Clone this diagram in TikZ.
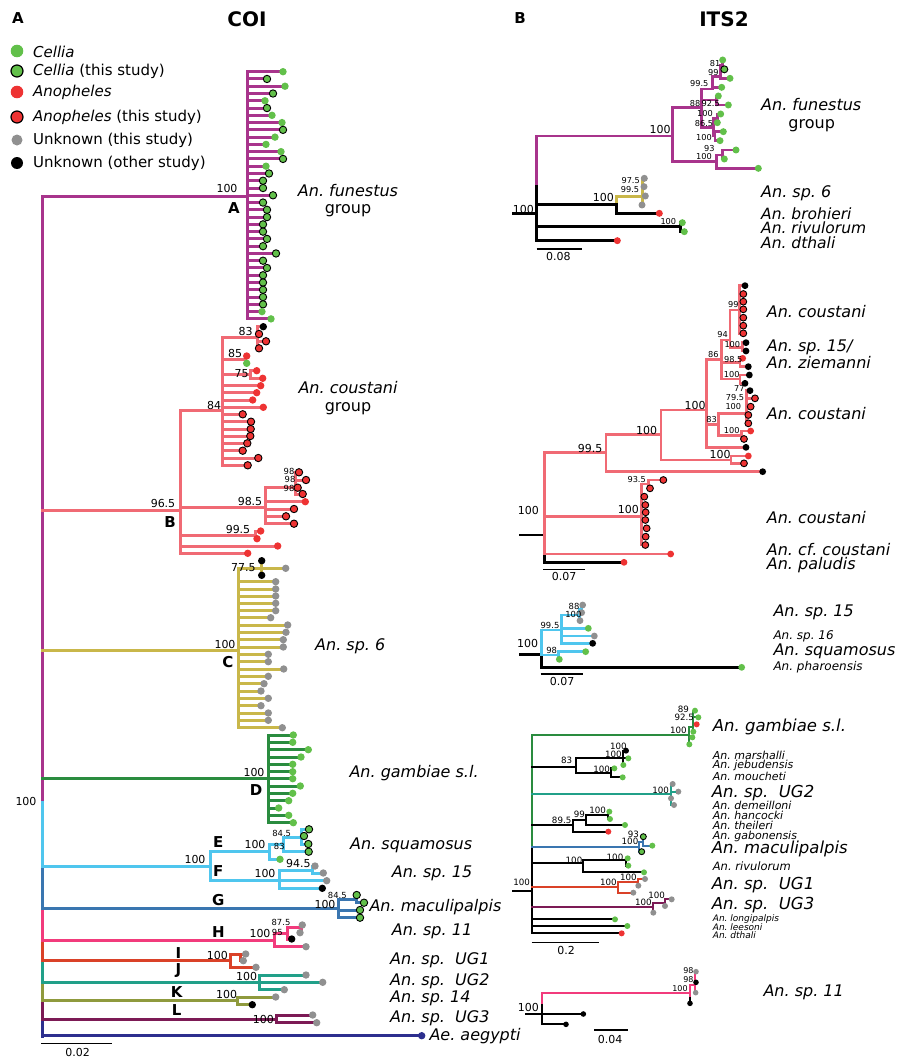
\documentclass[tikz,border=0pt]{standalone}
\usepackage{fontspec}
\setmainfont{DejaVu Sans}
\frenchspacing
\definecolor{cA}{HTML}{A8348C}
\definecolor{cB}{HTML}{F06A74}
\definecolor{cC}{HTML}{C9B74A}
\definecolor{cD}{HTML}{2A8C3F}
\definecolor{cE}{HTML}{4FC6EE}
\definecolor{cG}{HTML}{3A76B0}
\definecolor{cH}{HTML}{F23B7C}
\definecolor{cI}{HTML}{DA4128}
\definecolor{cJ}{HTML}{21A089}
\definecolor{cK}{HTML}{8F9A3D}
\definecolor{cL}{HTML}{7C1A55}
\definecolor{cN}{HTML}{2D2F8E}
\definecolor{cgreen}{HTML}{62C04A}
\definecolor{cred}{HTML}{EE3333}
\definecolor{cgray}{HTML}{909090}
\newcommand\fs[1]{\fontsize{#1}{#1}\selectfont}
\newcounter{lfc}\newcounter{lbc}
\tikzset{
  br/.style={line width=3pt,line cap=rect},
  dot/.style={circle,inner sep=0pt,minimum size=7.4pt},
  dg/.style={dot,fill=cgreen},
  dG/.style={dot,fill=cgreen,draw=black,line width=0.9pt},
  dr/.style={dot,fill=cred},
  dR/.style={dot,fill=cred,draw=black,line width=0.9pt},
  da/.style={dot,fill=cgray},
  dk/.style={dot,fill=black},
  dn/.style={dot,fill=cN},
  sbar/.style={line width=1.6pt,black},
}
\newcommand\lf[5]{\stepcounter{lfc}\draw[br,#1] (#2,#3) -- (#4,#3) node[#5] (lf\arabic{lfc}) {};}
\newcommand\hb[4]{\draw[br,#1] (#2,#4) -- (#3,#4);}
\newcommand\vb[4]{\draw[br,#1] (#2,#3) -- (#2,#4);}
\newcommand\bt[4]{\stepcounter{lbc}\node[inner sep=0pt,font=\fs{#1}] (b\arabic{lbc}) at (#2,#3) {#4};}
\newcommand\spl[4]{\stepcounter{lbc}\node[inner sep=0pt,anchor=west,font=\fs{#1}\itshape] (b\arabic{lbc}) at (#2,#3) {#4};}
\newcommand\cl[3]{\stepcounter{lbc}\node[inner sep=0pt,font=\bfseries\fs{15}] (b\arabic{lbc}) at (#1,#2) {#3};}
\begin{document}
\begin{tikzpicture}[x=1pt,y=-1pt]
\useasboundingbox (0,0) rectangle (899,1057);
\fill[white] (0,0) rectangle (899,1057);
% titles
\node[font=\bfseries\fs{15},inner sep=0pt] (pA) at (18,18) {A};
\node[font=\bfseries\fs{20},inner sep=0pt] (tCOI) at (247,19) {COI};
\node[font=\bfseries\fs{15},inner sep=0pt] (pB) at (520,18) {B};
\node[font=\bfseries\fs{20},inner sep=0pt] (tITS) at (724,19) {ITS2};
% legend
\node[dg,minimum size=12.6pt] (lg1) at (17,51) {};
\node[dG,minimum size=12pt,line width=1.2pt] (lg2) at (17,71) {};
\node[dr,minimum size=12.6pt] (lg3) at (17,92) {};
\node[dR,minimum size=12pt,line width=1.2pt] (lg4) at (17,117) {};
\node[da,minimum size=11pt] (lg5) at (17,140) {};
\node[dk,minimum size=12pt] (lg6) at (17,163) {};
\node[anchor=west,inner sep=0pt,font=\fs{15}] (lt1) at (33,51.5) {\itshape Cellia};
\node[anchor=west,inner sep=0pt,font=\fs{15}] (lt2) at (33,71.5) {\itshape Cellia\upshape{} (this study)};
\node[anchor=west,inner sep=0pt,font=\fs{15}] (lt3) at (33,92.5) {\itshape Anopheles};
\node[anchor=west,inner sep=0pt,font=\fs{15}] (lt4) at (33,117) {\itshape Anopheles\upshape{} (this study)};
\node[anchor=west,inner sep=0pt,font=\fs{15}] (lt5) at (33,140) {Unknown (this study)};
\node[anchor=west,inner sep=0pt,font=\fs{15}] (lt6) at (33,163.5) {Unknown (other study)};

% ================= COI ==================
\vb{cA}{42}{196}{802}
\vb{cE}{42}{802}{867}
\vb{cG}{42}{867}{909}
\vb{cH}{42}{909}{942}
\vb{cI}{42}{942}{962}
\vb{cJ}{42}{962}{983}
\vb{cK}{42}{983}{1002}
\vb{cL}{42}{1002}{1020}
\vb{cN}{42}{1020}{1036}
% A
\hb{cA}{42}{247}{196}
\vb{cA}{247}{71.7}{318.9}
\foreach \x/\t [count=\i from 0] in {283/dg,267/dG,285/dg,273/dG,265/dg,267/dG,272/dg,282/dg,283/dG,275/dg,266/dg,281/dg,283/dG,266/dg,269/dG,263/dG,263/dG,273/dG,263/dG,267/dG,267/dG,263/dG,263/dG,267/dG,263/dG,276/dG,263/dG,267/dG,263/dG,263/dG,263/dG,263/dG,263/dG,262/dg,271/dg}{\lf{cA}{247}{71.7+7.27*\i}{\x}{\t}}
% B
\hb{cB}{42}{180}{510.7}
\vb{cB}{180}{410.7}{553.3}
\hb{cB}{180}{222.7}{410.7}
\vb{cB}{222.7}{337}{465.3}
\hb{cB}{222.7}{257.3}{337}
\vb{cB}{257.3}{326.7}{348.3}
\lf{cB}{257.3}{326.7}{263.3}{dk}
\lf{cB}{257.3}{334}{259}{dR}
\lf{cB}{257.3}{341.3}{266}{dR}
\lf{cB}{257.3}{348.3}{259}{dR}
\hb{cB}{222.7}{245}{359.7}
\vb{cB}{245}{356}{363.3}
\lf{cB}{245}{356}{246.7}{dr}
\lf{cB}{245}{363.3}{246.7}{dg}
\hb{cB}{222.7}{250}{374}
\vb{cB}{250}{370.7}{378.3}
\lf{cB}{250}{370.7}{256.7}{dr}
\lf{cB}{250}{378.3}{262.7}{dr}
\foreach \y/\x/\t in {385.7/260.7/dr,392.7/256.7/dr,400/252.7/dr,407.3/263.3/dr,414.3/242.7/dR,421.7/251/dR,429/250.7/dR,436/250.3/dR,443.3/247.3/dR,450.7/242.7/dR,458/258.3/dR,465.3/247.7/dR}{\lf{cB}{222.7}{\y}{\x}{\t}}
\hb{cB}{180}{265.7}{507.7}
\vb{cB}{265.7}{487.7}{523.7}
\hb{cB}{265.7}{295}{487.7}
\vb{cB}{295}{472.3}{494}
\foreach \y/\x in {472.3/299,480/306,487.7/297.7,494/302.7}{\lf{cB}{295}{\y}{\x}{dR}}
\foreach \y/\x/\t in {501.7/305.3/dr,509/294/dR,516.3/286/dR,523.7/294/dR}{\lf{cB}{265.7}{\y}{\x}{\t}}
\hb{cB}{180}{255}{535}
\vb{cB}{255}{531}{538.7}
\lf{cB}{255}{531}{260.7}{dr}
\lf{cB}{255}{538.7}{257}{dr}
\lf{cB}{180}{546}{277.7}{dr}
\lf{cB}{180}{553.3}{247.7}{dr}
% C
\hb{cC}{42}{238.3}{650}
\vb{cC}{238.3}{568.3}{727.7}
\hb{cC}{238.3}{261}{568.3}
\vb{cC}{261}{560.7}{575.3}
\lf{cC}{261}{560.7}{261.7}{dk}
\lf{cC}{261}{568.3}{285.7}{da}
\lf{cC}{261}{575.3}{261.7}{dk}
\foreach \y/\x in {581.7/275.7,589/275.7,596/275.7,603.3/275.7,610.7/275.7,617.7/270.7,625/287.7,632.3/286,639.7/283.3,647/283.3,654.3/268.3,661.7/268.3,669/283.7,676.3/268.3,683.7/264,691/261,698.3/268.3,705.7/261,713/268.3,720.3/268.3,727.7/282.3}{\lf{cC}{238.3}{\y}{\x}{da}}
% D
\hb{cD}{42}{268.3}{778.3}
\vb{cD}{268.3}{735}{822.7}
\foreach \y/\x in {735/293.3,742.3/292.7,749.7/308.3,757/301,764.3/292.7,771.7/292.7,778.7/292.7,786/300.3,793.3/292.7,800.7/288.7,808/278.7,815.3/288.7,822.7/293.3}{\lf{cD}{268.3}{\y}{\x}{dg}}
% E F
\hb{cE}{42}{210}{866.7}
\vb{cE}{210}{851}{880}
\hb{cE}{210}{269.3}{851}
\vb{cE}{269.3}{844}{859.3}
\hb{cE}{269.3}{283.3}{844}
\vb{cE}{283.3}{837}{851.7}
\hb{cE}{283.3}{301.7}{837}
\vb{cE}{301.7}{829.3}{844}
\lf{cE}{301.7}{829.3}{309}{dG}
\lf{cE}{301.7}{836}{304}{dG}
\lf{cE}{301.7}{844}{308.3}{dG}
\lf{cE}{283.3}{851.7}{308.7}{dG}
\lf{cE}{269.3}{859.3}{280}{dg}
\hb{cE}{210}{279.3}{880}
\vb{cE}{279.3}{870}{888.3}
\hb{cE}{279.3}{312.7}{870}
\vb{cE}{312.7}{866}{873}
\lf{cE}{312.7}{866}{315}{da}
\lf{cE}{312.7}{873}{323.3}{da}
\lf{cE}{279.3}{880.7}{326.7}{da}
\lf{cE}{279.3}{888.3}{322.3}{dk}
% G
\hb{cG}{42}{338.3}{908.3}
\vb{cG}{338.3}{899}{917.7}
\hb{cG}{338.3}{356}{899}
\vb{cG}{356}{895}{902.7}
\lf{cG}{356}{895}{356.7}{dG}
\lf{cG}{356}{902.7}{364}{dG}
\lf{cG}{338.3}{910}{360}{dG}
\lf{cG}{338.3}{917.7}{360}{dG}
% H
\hb{cH}{42}{274.3}{940}
\vb{cH}{274.3}{933.3}{946.7}
\hb{cH}{274.3}{287.3}{933.3}
\vb{cH}{287.3}{927.3}{939}
\hb{cH}{287.3}{301.7}{927.3}
\vb{cH}{301.7}{925}{932.7}
\lf{cH}{301.7}{925}{302.3}{da}
\lf{cH}{301.7}{932.7}{300}{da}
\lf{cH}{287.3}{939}{291.7}{dk}
\lf{cH}{274.3}{946.7}{306}{da}
% I
\hb{cI}{42}{230}{960.7}
\vb{cI}{230}{954}{967.3}
\hb{cI}{230}{240}{954}
\vb{cI}{240}{954}{960.7}
\lf{cI}{240}{954}{245.7}{da}
\lf{cI}{240}{960.7}{243.3}{da}
\lf{cI}{230}{967.3}{256}{da}
% J
\hb{cJ}{42}{259.3}{982.3}
\vb{cJ}{259.3}{975}{989.7}
\lf{cJ}{259.3}{975}{306}{da}
\lf{cJ}{259.3}{982.3}{322.7}{da}
\lf{cJ}{259.3}{989.7}{284.3}{da}
% K
\hb{cK}{42}{237.3}{1000.7}
\vb{cK}{237.3}{997}{1004.7}
\lf{cK}{237.3}{997}{275.7}{da}
\lf{cK}{237.3}{1004.7}{252.3}{dk}
% L
\hb{cL}{42}{276}{1019}
\vb{cL}{276}{1015}{1022.7}
\lf{cL}{276}{1015}{312.7}{da}
\lf{cL}{276}{1022.7}{316.7}{da}
% Ae
\lf{cN}{42}{1035.7}{421.7}{dn}
% scale
\draw[sbar] (41,1043.3) -- (111.7,1043.3);
\bt{11}{77.7}{1052}{0.02}
% bootstrap labels COI
\bt{11}{26}{801}{100}
\bt{11}{227}{188}{100}
\bt{11}{245.7}{331}{83}
\bt{11}{235}{353}{85}
\bt{11}{241.7}{374}{75}
\bt{11}{214}{405}{84}
\bt{11}{163}{503}{96.5}
\bt{11}{250}{501.7}{98.5}
\bt{11}{238}{529}{99.5}
\bt{8.4}{289}{471.7}{98}
\bt{8.4}{290}{479}{98}
\bt{8.4}{289}{488.3}{98}
\bt{11}{243.3}{567.3}{77.5}
\bt{11}{225}{644}{100}
\bt{11}{254}{772.3}{100}
\bt{11}{195}{859}{100}
\bt{11}{255}{844}{100}
\bt{8.4}{281.7}{833.3}{84.5}
\bt{8.4}{279.3}{846}{83}
\bt{11}{265}{873.3}{100}
\bt{11}{298.3}{863.3}{94.5}
\bt{11}{325}{904}{100}
\bt{8.4}{337.3}{895}{84.5}
\bt{11}{260}{933.3}{100}
\bt{8.4}{277.3}{932.7}{95}
\bt{8.4}{281}{922.7}{87.5}
\bt{11}{217.3}{955}{100}
\bt{11}{246.7}{976}{100}
\bt{11}{226.7}{994.3}{100}
\bt{11}{263.3}{1019}{100}
% clade letters
\cl{234}{208}{A}
\cl{170}{522}{B}
\cl{228}{661.7}{C}
\cl{256}{790}{D}
\cl{218.3}{841.7}{E}
\cl{218.3}{871}{F}
\cl{218.3}{900}{G}
\cl{218.3}{931.7}{H}
\cl{178.3}{952.7}{I}
\cl{178.3}{971}{J}
\cl{176.7}{991.7}{K}
\cl{176.7}{1010}{L}
% species labels COI
\bt{16}{348}{191}{\itshape An. funestus}
\bt{16}{348}{211}{group}
\bt{16}{348}{387.3}{\itshape An. coustani}
\bt{16}{348}{408.3}{group}
\spl{16}{315}{646}{An. sp. 6}
\spl{16}{349.3}{773.3}{An. gambiae s.l.}
\spl{16}{350}{845}{An. squamosus}
\spl{16}{391.7}{873.3}{An. sp. 15}
\spl{16}{369.3}{906.7}{An. maculipalpis}
\spl{16}{391.7}{931}{An. sp. 11}
\spl{16}{390}{960}{An. sp.\ \ UG1}
\spl{16}{390}{981.7}{An. sp.\ \ UG2}
\spl{16}{390}{998.3}{An. sp. 14}
\spl{16}{390}{1018.3}{An. sp.\ \ UG3}
\spl{16}{429.3}{1035.7}{Ae. aegypti}

% ================= ITS2 panel 1 ==================
\begin{scope}[shift={(500,50)},x=0.33333pt,y=-0.33333pt,br/.style={line width=2.5pt,line cap=rect},dot/.style={circle,inner sep=0pt,minimum size=7pt}]
\draw[br,black] (40,490) -- (110,490);
\vb{cA}{110}{258}{410}
\vb{black}{110}{410}{572}
\hb{cA}{110}{517}{258}
\vb{cA}{517}{172}{335}
\hb{cA}{517}{605}{172}
\vb{cA}{605}{117}{232}
\hb{cA}{605}{637}{117}
\vb{cA}{637}{80}{112}
\hb{cA}{637}{662}{80}
\vb{cA}{662}{45}{85}
\hb{cA}{662}{668}{45}
\vb{cA}{668}{30}{58}
\lf{cA}{668}{30}{668}{dg}
\lf{cA}{668}{58}{673}{dG}
\lf{cA}{662}{85}{690}{dg}
\lf{cA}{637}{112}{665}{dg}
\hb{cA}{605}{650}{150}
\vb{cA}{650}{138}{165}
\lf{cA}{650}{138}{655}{dg}
\lf{cA}{650}{165}{685}{dg}
\hb{cA}{605}{640}{232}
\vb{cA}{640}{205}{258}
\hb{cA}{640}{652}{205}
\vb{cA}{652}{192}{218}
\lf{cA}{652}{192}{662}{dg}
\lf{cA}{652}{218}{652}{dg}
\hb{cA}{640}{645}{258}
\vb{cA}{645}{245}{272}
\lf{cA}{645}{245}{670}{dg}
\lf{cA}{645}{272}{660}{dg}
\hb{cA}{517}{650}{335}
\vb{cA}{650}{315}{355}
\hb{cA}{650}{668}{315}
\vb{cA}{668}{300}{327}
\lf{cA}{668}{300}{708}{dg}
\lf{cA}{668}{327}{673}{dg}
\lf{cA}{650}{355}{775}{dg}
\hb{black}{110}{350}{463}
\vb{cC}{350}{440}{463}
\vb{black}{350}{463}{490}
\hb{cC}{350}{428}{440}
\vb{cC}{428}{385}{465}
\foreach \y/\x in {385/433,410/432,438/436,465/426}{\lf{cC}{428}{\y}{\x}{da}}
\lf{black}{350}{490}{478}{dr}
\hb{black}{110}{542}{530}
\vb{black}{542}{518}{545}
\lf{black}{542}{518}{547}{dg}
\lf{black}{542}{545}{553}{dg}
\lf{black}{110}{572}{352}{dr}
\draw[sbar] (110,597) -- (245,597);
\bt{11}{175}{620}{0.08}
\bt{11}{70}{478}{100}
\bt{11}{480}{237}{100}
\bt{11}{310}{442}{100}
\bt{8.2}{645}{40}{81}
\bt{8.2}{640}{68}{99}
\bt{8.2}{598}{102}{99.5}
\bt{8.2}{585}{160}{88}
\bt{8.2}{632}{160}{92.5}
\bt{8.2}{615}{190}{100}
\bt{8.2}{612}{220}{86.5}
\bt{8.2}{612}{262}{100}
\bt{8.2}{628}{297}{93}
\bt{8.2}{612}{320}{100}
\bt{8.2}{392}{393}{97.5}
\bt{8.2}{390}{418}{99.5}
\bt{8.2}{505}{515}{100}
\spl{16}{783}{165}{An. funestus}
\bt{16}{935}{228}{group}
\spl{16}{783}{430}{An. sp. 6}
\spl{15.5}{783}{490}{An. brohieri}
\spl{15.5}{783}{533}{An. rivulorum}
\spl{15.5}{783}{577}{An. dthali}
\end{scope}

% ================= ITS2 panel 2 ==================
\begin{scope}[shift={(500,270)},x=0.33333pt,y=-0.33333pt,br/.style={line width=2.6pt,line cap=rect},dot/.style={circle,inner sep=0pt,minimum size=6.8pt}]
\draw[br,black] (60,795) -- (133,795);
\vb{cB}{133}{548}{852}
\vb{black}{133}{852}{877}
\hb{cB}{133}{318}{548}
\vb{cB}{318}{493}{605}
\hb{cB}{318}{483}{493}
\vb{cB}{483}{420}{570}
\hb{cB}{483}{620}{420}
\vb{cB}{620}{268}{532}
\hb{cB}{620}{665}{268}
\vb{cB}{665}{210}{327}
\hb{cB}{665}{690}{210}
\vb{cB}{690}{120}{232}
\hb{cB}{690}{718}{120}
\vb{cB}{718}{47}{190}
\lf{cB}{718}{47}{735}{dk}
\foreach \y in {72,95,118,143,167,190}{\lf{cB}{718}{\y}{730}{dR}}
\hb{cB}{690}{728}{232}
\vb{cB}{728}{218}{243}
\lf{cB}{728}{218}{738}{dk}
\lf{cB}{728}{243}{738}{dk}
\hb{cB}{665}{720}{278}
\vb{cB}{720}{265}{290}
\lf{cB}{720}{265}{728}{dr}
\lf{cB}{720}{290}{745}{dk}
\hb{cB}{665}{720}{327}
\vb{cB}{720}{315}{340}
\lf{cB}{720}{315}{748}{dk}
\lf{cB}{720}{340}{735}{dk}
\hb{cB}{620}{655}{463}
\vb{cB}{655}{430}{497}
\hb{cB}{655}{740}{430}
\vb{cB}{740}{362}{460}
\lf{cB}{740}{362}{750}{dk}
\lf{cB}{740}{385}{765}{dR}
\lf{cB}{740}{410}{752}{dR}
\lf{cB}{740}{435}{745}{dR}
\lf{cB}{740}{460}{745}{dR}
\hb{cB}{655}{725}{497}
\vb{cB}{725}{483}{507}
\lf{cB}{725}{483}{752}{dr}
\lf{cB}{725}{507}{732}{dR}
\lf{cB}{620}{532}{738}{dk}
\hb{cB}{483}{693}{570}
\vb{cB}{693}{558}{580}
\lf{cB}{693}{558}{745}{dr}
\lf{cB}{693}{580}{732}{dR}
\lf{cB}{318}{605}{788}{dk}
\hb{cB}{133}{425}{740}
\vb{cB}{425}{642}{825}
\hb{cB}{425}{445}{642}
\vb{cB}{445}{630}{655}
\lf{cB}{445}{630}{490}{dR}
\lf{cB}{445}{655}{450}{dR}
\foreach \y/\x in {680/433,705/436,727/437,750/436,775/440,800/437,825/436}{\lf{cB}{425}{\y}{\x}{dR}}
\lf{cB}{133}{852}{512}{dr}
\lf{black}{133}{877}{372}{dr}
\draw[sbar] (130,898) -- (255,898);
\bt{11}{192}{918}{0.07}
\bt{11}{85}{722}{100}
\bt{11}{270}{535}{99.5}
\bt{11}{440}{480}{100}
\bt{11}{585}{405}{100}
\bt{11}{660}{552}{100}
\bt{11}{385}{718}{100}
\bt{8.2}{640}{255}{86}
\bt{8.2}{668}{193}{94}
\bt{8.2}{700}{105}{99}
\bt{8.2}{697}{224}{100}
\bt{8.2}{700}{270}{98.5}
\bt{8.2}{695}{313}{100}
\bt{8.2}{635}{450}{83}
\bt{8.2}{718}{357}{77}
\bt{8.2}{705}{382}{79.5}
\bt{8.2}{700}{410}{100}
\bt{8.2}{695}{483}{100}
\bt{8.2}{410}{630}{93.5}
\spl{16}{800}{125}{An. coustani}
\spl{16}{800}{232}{An. sp. 15/}
\spl{16}{800}{278}{An. ziemanni}
\spl{16}{800}{432}{An. coustani}
\spl{16}{800}{742}{An. coustani}
\spl{16}{800}{838}{An. cf. coustani}
\spl{16}{800}{885}{An. paludis}
\end{scope}

% ================= ITS2 panel 3 ==================
\begin{scope}[shift={(500,590)},x=0.33333pt,y=-0.33333pt,br/.style={line width=2.4pt,line cap=rect},dot/.style={circle,inner sep=0pt,minimum size=6.8pt}]
\draw[br,black] (60,193) -- (125,193);
\vb{cE}{125}{120}{197}
\vb{black}{125}{197}{232}
\hb{cE}{125}{185}{120}
\vb{cE}{185}{75}{160}
\hb{cE}{185}{238}{75}
\vb{cE}{238}{57}{92}
\hb{cE}{238}{244}{57}
\vb{cE}{244}{45}{68}
\lf{cE}{244}{45}{248}{da}
\lf{cE}{244}{68}{245}{da}
\lf{cE}{238}{92}{240}{da}
\lf{cE}{185}{115}{265}{dg}
\lf{cE}{185}{138}{283}{da}
\lf{cE}{185}{160}{278}{dk}
\hb{cE}{125}{175}{195}
\vb{cE}{175}{185}{208}
\lf{cE}{175}{185}{257}{dg}
\lf{cE}{175}{208}{178}{dg}
\draw[br,black] (125,232) -- (668,232);
\draw[line width=3.4pt,black] (668,232) -- (725,232) node[dg] (pha) {};
\draw[sbar] (122,252) -- (250,252);
\bt{11}{186}{275}{0.07}
\bt{11}{83}{160}{100}
\bt{8.4}{150}{105}{99.5}
\bt{8.4}{220}{72}{100}
\bt{8.4}{222}{48}{88}
\bt{8.4}{155}{180}{98}
\spl{16}{820}{68}{An. sp. 15}
\spl{12}{820}{138}{An. sp. 16}
\spl{16}{820}{183}{An. squamosus}
\spl{12}{820}{233}{An. pharoensis}
\end{scope}

% ================= ITS2 panel 4 ==================
\begin{scope}[shift={(500,770)},x=0.33333pt,y=-0.33333pt,br/.style={line width=1.9pt,line cap=rect},dot/.style={circle,inner sep=0pt,minimum size=6pt}]
\draw[br,black] (40,362) -- (95,362);
\vb{cD}{95}{-105}{230}
\vb{black}{95}{230}{490}
% gambiae
\hb{cD}{95}{568}{-105}
\vb{cD}{568}{-130}{-77}
\hb{cD}{568}{578}{-130}
\vb{cD}{578}{-178}{-115}
\lf{cD}{578}{-178}{585}{dg}
\lf{cD}{578}{-158}{595}{dg}
\lf{cD}{578}{-137}{590}{dr}
\lf{cD}{578}{-115}{580}{dg}
\lf{cD}{568}{-98}{577}{dg}
\lf{cD}{568}{-77}{568}{dg}
% 83
\hb{black}{95}{228}{-10}
\vb{black}{228}{-36}{8}
\hb{black}{228}{370}{-36}
\vb{black}{370}{-58}{-15}
\lf{black}{370}{-58}{378}{dk}
\lf{black}{370}{-35}{385}{dg}
\lf{black}{370}{-15}{370}{dg}
\hb{black}{228}{333}{8}
\vb{black}{333}{-5}{22}
\lf{black}{333}{-5}{343}{dg}
\lf{black}{333}{22}{368}{dg}
% UG2
\hb{cJ}{95}{512}{72}
\vb{cJ}{512}{42}{105}
\node[da] (u2a) at (518,42) {};
\node[da] (u2b) at (535,65) {};
\node[da] (u2c) at (513,85) {};
\node[da] (u2d) at (522,105) {};
\draw[br,cJ] (512,65) -- (u2b);
% 89.5
\hb{black}{95}{220}{165}
\vb{black}{220}{150}{185}
\hb{black}{220}{258}{150}
\vb{black}{258}{136}{165}
\hb{black}{258}{325}{136}
\vb{black}{325}{125}{147}
\lf{black}{325}{125}{328}{dg}
\lf{black}{325}{147}{330}{dg}
\lf{black}{258}{165}{375}{dg}
\lf{black}{220}{185}{325}{dr}
% maculipalpis
\hb{cG}{95}{418}{230}
\vb{cG}{418}{215}{245}
\hb{cG}{418}{428}{215}
\vb{cG}{428}{200}{227}
\lf{cG}{428}{200}{430}{dG}
\lf{cG}{428}{227}{457}{dg}
\lf{cG}{418}{245}{425}{dG}
% rivulorum
\hb{black}{95}{248}{280}
\vb{black}{248}{270}{307}
\hb{black}{248}{378}{270}
\vb{black}{378}{265}{287}
\lf{black}{378}{265}{383}{dg}
\lf{black}{378}{287}{385}{dg}
\lf{black}{248}{307}{432}{dg}
% UG1
\hb{cI}{95}{355}{350}
\vb{cI}{355}{336}{368}
\hb{cI}{355}{415}{336}
\vb{cI}{415}{327}{347}
\lf{cI}{415}{327}{435}{da}
\lf{cI}{415}{347}{415}{da}
\lf{cI}{355}{368}{400}{da}
% UG3
\hb{cL}{95}{458}{412}
\vb{cL}{458}{398}{428}
\hb{cL}{458}{495}{398}
\vb{cL}{495}{388}{408}
\lf{cL}{495}{388}{515}{da}
\lf{cL}{495}{408}{495}{da}
\lf{cL}{458}{428}{460}{da}
% others
\lf{black}{95}{448}{345}{dg}
\lf{black}{95}{468}{382}{dg}
\lf{black}{95}{490}{365}{dr}
\draw[sbar] (95,518) -- (298,518);
\bt{11}{198}{542}{0.2}
\bt{8.7}{65}{338}{100}
\bt{8.7}{550}{-183}{89}
\bt{8.7}{553}{-158}{92.5}
\bt{8.7}{535}{-120}{100}
\bt{8.7}{200}{-28}{83}
\bt{8.7}{355}{-72}{100}
\bt{8.7}{340}{-48}{100}
\bt{8.7}{305}{-2}{100}
\bt{8.7}{482}{60}{100}
\bt{8.7}{185}{152}{89.5}
\bt{8.7}{238}{133}{99}
\bt{8.7}{293}{120}{100}
\bt{8.7}{400}{192}{93}
\bt{8.7}{390}{215}{100}
\bt{8.7}{222}{270}{100}
\bt{8.7}{345}{262}{100}
\bt{8.7}{325}{338}{100}
\bt{8.7}{385}{322}{100}
\bt{8.7}{430}{398}{100}
\bt{8.7}{470}{377}{100}
\spl{16.5}{638}{-130}{An. gambiae s.l.}
\spl{11}{638}{-45}{An. marshalli}
\spl{11}{638}{-13}{An. jebudensis}
\spl{11}{638}{20}{An. moucheti}
\spl{16.5}{635}{70}{An. sp.\ \ UG2}
\spl{11}{638}{105}{An. demeilloni}
\spl{11}{638}{135}{An. hancocki}
\spl{11}{638}{166}{An. theileri}
\spl{11}{638}{199}{An. gabonensis}
\spl{16.5}{635}{238}{An. maculipalpis}
\spl{11.5}{638}{288}{An. rivulorum}
\spl{16.5}{635}{345}{An. sp.\ \ UG1}
\spl{16.5}{635}{405}{An. sp.\ \ UG3}
\spl{9}{638}{447}{An. longipalpis}
\spl{9}{638}{470}{An. leesoni}
\spl{9}{638}{495}{An. dthali}
\end{scope}

% ================= ITS2 panel 5 ==================
\begin{scope}[shift={(500,960)},x=0.33333pt,y=-0.33333pt,br/.style={line width=2.2pt,line cap=rect},dot/.style={circle,inner sep=0pt,minimum size=5.6pt}]
\draw[br,black] (78,162) -- (125,162);
\vb{cH}{125}{100}{135}
\vb{black}{125}{135}{193}
\hb{cH}{125}{570}{100}
\vb{cH}{570}{75}{115}
\vb{black}{570}{115}{130}
\node[dk] (s11a) at (570,130) {};
\hb{cH}{570}{585}{75}
\vb{cH}{585}{35}{98}
\lf{cH}{585}{35}{588}{da}
\lf{cH}{585}{67}{588}{dk}
\lf{cH}{585}{98}{587}{da}
\lf{black}{125}{162}{250}{dk}
\lf{black}{125}{193}{198}{dk}
\draw[sbar] (283,210) -- (383,210);
\bt{11}{330}{238}{0.04}
\bt{11}{85}{142}{100}
\bt{8}{565}{32}{98}
\bt{8}{565}{58}{98}
\bt{8}{540}{85}{100}
\spl{16}{790}{98}{An. sp. 11}
\end{scope}
\end{tikzpicture}
\end{document}
